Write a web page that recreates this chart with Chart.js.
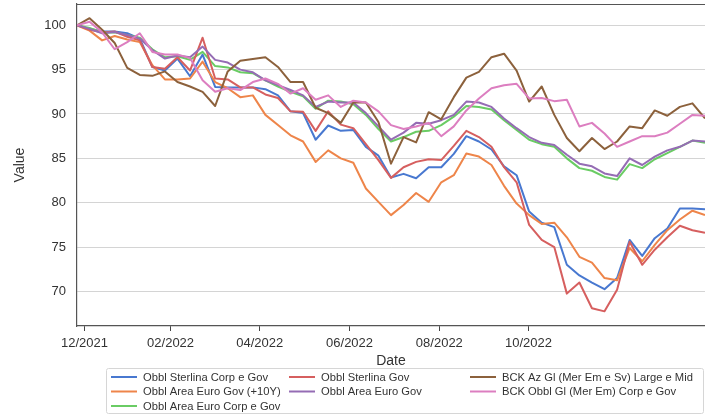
<!DOCTYPE html>
<html><head><meta charset="utf-8">
<script src="https://cdn.jsdelivr.net/npm/chart.js@4/dist/chart.umd.min.js"></script>
<style>html,body{margin:0;padding:0;background:#fff}#wrap{width:705px;height:417px;position:relative}</style>
</head><body><div id="wrap"><canvas id="c" width="705" height="417"></canvas></div>
<script>
const seriesNames = [
  'Obbl Sterlina Corp e Gov',
  'Obbl Area Euro Gov (+10Y)',
  'Obbl Area Euro Corp e Gov',
  'Obbl Sterlina Gov',
  'Obbl Area Euro Gov',
  'BCK Az Gl (Mer Em e Sv) Large e Mid',
  'BCK Obbl Gl (Mer Em) Corp e Gov'
];
const sterlinaCorpGov = [100,99.6,99.3,99.3,99.1,98.5,95.3,94.9,96.25,94.25,96.7,93.05,93,93,93,92.8,92.1,90.3,90.1,87.1,88.7,88.1,88.2,86.3,85.3,82.85,83.25,82.75,84,84,85.5,87.5,86.9,86,84.1,83.1,79,77.75,77.25,73,71.8,71,70.25,71.5,75.8,74,76,77.1,79.35,79.35,79.25];
const areaEuroGov10Y = [100,99.4,98.3,98.8,98.4,98.1,95.5,93.9,93.9,94.0,95.9,93.6,92.9,91.9,92.1,89.9,88.75,87.6,86.9,84.6,85.9,85,84.5,81.6,80.1,78.6,79.75,81.1,80.1,82.3,83.1,85.55,85.2,84.25,81.9,79.9,78.6,77.6,77.75,76.1,73.9,73.25,71.5,71.25,74.9,73.4,75.25,76.9,78.1,79.1,78.6];
const areaEuroCorpGov = [100,99.7,99.2,99.2,98.9,98.6,97.3,96.4,96.5,96.1,97,95.4,95.25,94.7,94.6,93.8,93.1,92.5,92,90.6,91.5,91.4,91.1,89.9,88.3,86.9,87.4,88,88.1,88.75,89.7,90.9,90.8,90.5,89.3,88.2,87.1,86.6,86.3,85,83.9,83.6,82.9,82.6,84.35,83.9,84.9,85.6,86.3,87,86.75];
const sterlinaGov = [100,99.5,99.2,99.3,98.7,98.3,95.3,95.1,96.4,94.9,98.6,94,93.9,93,93,92.2,91.8,90.3,90.25,88.1,90.3,88.8,88.4,86.6,84.8,82.8,84,84.6,84.9,84.8,86.4,88.1,87.4,86.3,84,82.3,77.5,75.8,75,69.75,71,68.1,67.75,70.2,75.6,73,74.7,76.1,77.4,76.9,76.6];
const areaEuroGov = [100,99.6,99.1,99.25,98.9,98.5,97.2,96.25,96.6,96.4,97.6,96.1,95.8,95,94.7,93.8,93.25,92.7,92.1,90.8,91.4,91.3,91.3,90.1,88.6,87.1,87.9,89,88.9,89.3,89.9,91.4,91.3,90.8,89.5,88.4,87.4,86.75,86.5,85.4,84.4,84.1,83.3,83,85,84.25,85.2,85.9,86.3,87,86.9];
const bckAzLargeMid = [100,100.8,99.5,98.0,95.2,94.4,94.3,94.8,93.6,93.1,92.5,90.9,94.8,96,96.2,96.4,95.3,93.6,93.6,90.7,90.1,89,91.3,91.3,89.1,84.4,87.4,86.8,90.2,89.4,91.9,94.1,94.75,96.4,96.8,94.9,91.4,93.1,89.9,87.3,85.8,87.3,86.05,86.9,88.6,88.4,90.4,89.8,90.8,91.2,89.5];
const bckObblCorpGov = [100,100.4,99.2,97.3,98.1,99.1,97,96.7,96.7,96.3,93.8,92.5,92.9,92.7,93.6,94,93.4,92.3,92.9,91.6,92.1,90.8,91.5,91.3,90.3,88.75,88.3,88.6,89,87.5,88.6,90.4,91.75,92.9,93.25,93.4,91.75,91.8,91.45,91.6,88.6,89,87.8,86.3,86.9,87.5,87.5,87.9,88.9,89.9,89.8];
const seriesValues = [sterlinaCorpGov, areaEuroGov10Y, areaEuroCorpGov, sterlinaGov, areaEuroGov, bckAzLargeMid, bckObblCorpGov];

// x tick labels and where they fall along the observation sequence
const xTickLabels = ['12/2021','02/2022','04/2022','06/2022','08/2022','10/2022'];
const xTickAt = [0.6, 7.45, 14.55, 21.7, 28.85, 35.95];
const yTickValues = [70,75,80,85,90,95,100];

// ---- styles ----
const colors = ['#4878d0','#ee854a','#6acc64','#d65f5f','#956cb4','#8c613c','#dc7ec0'];
const FONT = "'Liberation Sans', Arial, sans-serif";
const TXT = '#333333';

const datasets = seriesValues.map((vals, k) => ({
  label: seriesNames[k],
  data: vals.map((v, i) => ({x: i, y: v})),
  borderColor: colors[k],
  backgroundColor: colors[k],
  borderWidth: 2,
  pointRadius: 0,
  tension: 0,
  fill: false,
  borderJoinStyle: 'round',
  order: seriesValues.length - k
}));

const decor = {
  id: 'decor',
  afterDraw(chart) {
    const ctx = chart.ctx, a = chart.chartArea;
    ctx.save();
    // top spine
    ctx.strokeStyle = '#555';
    ctx.lineWidth = 1.2;
    ctx.beginPath();
    ctx.moveTo(a.left, a.top + 0.5);
    ctx.lineTo(a.right, a.top + 0.5);
    ctx.stroke();
    // axis titles
    ctx.fillStyle = TXT;
    ctx.font = '14px ' + FONT;
    ctx.textAlign = 'center';
    ctx.textBaseline = 'middle';
    ctx.fillText('Date', (a.left + a.right) / 2, 361);
    ctx.save();
    ctx.translate(20, (a.top + a.bottom) / 2);
    ctx.rotate(-Math.PI / 2);
    ctx.fillText('Value', 0, 0);
    ctx.restore();
    // legend box
    const bx = 106.5, by = 368.5, bw = 597, bh = 45, r = 2;
    ctx.strokeStyle = '#d6d6d6';
    ctx.lineWidth = 1;
    ctx.fillStyle = 'rgba(255,255,255,0.85)';
    ctx.beginPath();
    ctx.moveTo(bx + r, by);
    ctx.lineTo(bx + bw - r, by); ctx.quadraticCurveTo(bx + bw, by, bx + bw, by + r);
    ctx.lineTo(bx + bw, by + bh - r); ctx.quadraticCurveTo(bx + bw, by + bh, bx + bw - r, by + bh);
    ctx.lineTo(bx + r, by + bh); ctx.quadraticCurveTo(bx, by + bh, bx, by + bh - r);
    ctx.lineTo(bx, by + r); ctx.quadraticCurveTo(bx, by, bx + r, by);
    ctx.closePath();
    ctx.fill(); ctx.stroke();
    // legend items, 3 columns filled column-first
    const colX = [111, 289, 470];
    const rowY = [377, 391.5, 406];
    const n = chart.data.datasets.length, ncol = 3;
    const base = Math.floor(n / ncol), extra = n % ncol;
    let idx = 0;
    ctx.font = '11.2px ' + FONT;
    ctx.textAlign = 'left';
    for (let c = 0; c < ncol; c++) {
      const count = base + (c < extra ? 1 : 0);
      for (let rr = 0; rr < count; rr++, idx++) {
        const ds = chart.data.datasets[idx];
        const x = colX[c], y = rowY[rr];
        ctx.strokeStyle = ds.borderColor;
        ctx.lineWidth = 2;
        ctx.beginPath();
        ctx.moveTo(x, y); ctx.lineTo(x + 26, y);
        ctx.stroke();
        ctx.fillStyle = TXT;
        ctx.fillText(ds.label, x + 32, y + 0.5);
      }
    }
    ctx.restore();
  }
};

new Chart(document.getElementById('c'), {
  type: 'line',
  data: { datasets },
  options: {
    responsive: false,
    animation: false,
    devicePixelRatio: 1,
    layout: { padding: { top: 4, right: 0, left: 0, bottom: 0 } },
    plugins: { legend: { display: false }, tooltip: { enabled: false } },
    scales: {
      x: {
        type: 'linear',
        min: 0,
        max: seriesValues[0].length - 1,
        afterBuildTicks: s => { s.ticks = xTickAt.map(v => ({ value: v })); },
        afterFit: s => { s.height = 91; s.paddingLeft = 0; s.paddingRight = 0; },
        ticks: {
          autoSkip: false, maxRotation: 0, minRotation: 0,
          color: TXT, font: { family: FONT, size: 13 }, padding: 5,
          callback: (v, i) => xTickLabels[i]
        },
        grid: { display: true, drawOnChartArea: false, drawTicks: true, tickLength: 5, tickColor: '#444', tickWidth: 1 },
        border: { display: true, color: '#555', width: 1.2 }
      },
      y: {
        type: 'linear',
        min: 66.1,
        max: 102.4,
        afterBuildTicks: s => { s.ticks = yTickValues.map(v => ({ value: v })); },
        afterFit: s => { s.width = 77; s.paddingTop = 0; s.paddingBottom = 0; },
        ticks: { color: TXT, font: { family: FONT, size: 13 }, padding: 11 },
        grid: { color: '#d4d4d4', lineWidth: 1, drawTicks: false },
        border: { display: true, color: '#555', width: 1.2 }
      }
    }
  },
  plugins: [decor]
});
</script>
</body></html>
